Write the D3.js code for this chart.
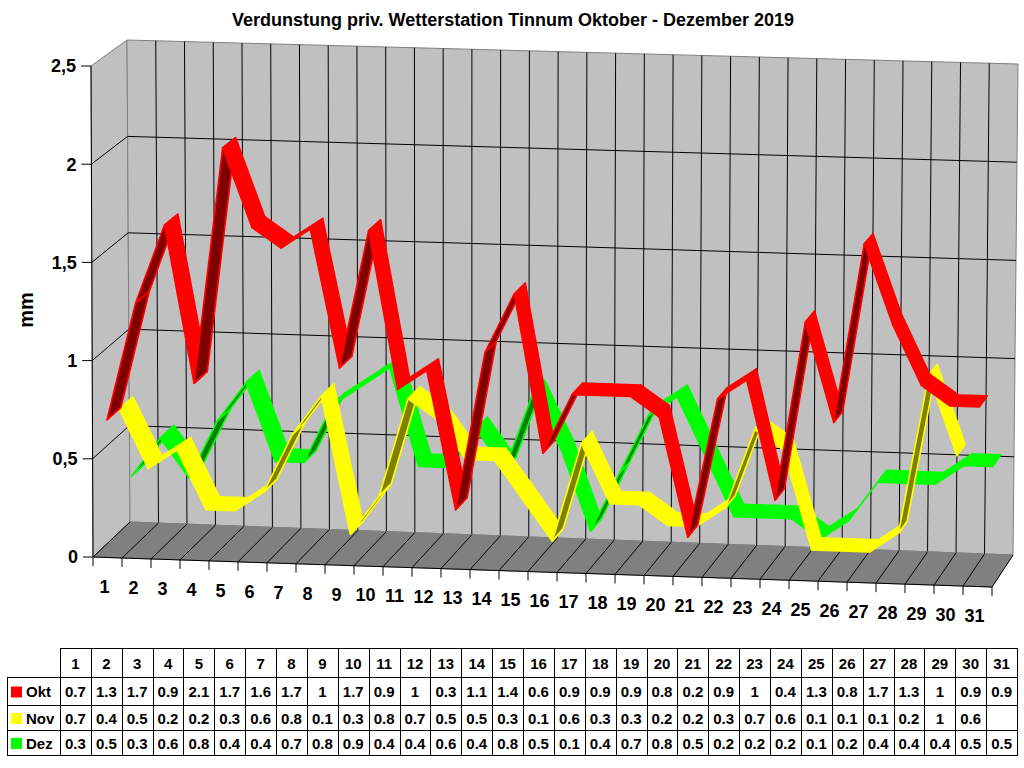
<!DOCTYPE html>
<html>
<head>
<meta charset="utf-8">
<script src="https://cdn.jsdelivr.net/npm/d3@7"></script>
<style>
  body { margin: 0; background: #fff; }
  svg { display: block; font-family: "Liberation Sans", Arial, sans-serif; }
</style>
</head>
<body>
<div id="chart"></div>
<script>
const days = [1, 2, 3, 4, 5, 6, 7, 8, 9, 10, 11, 12, 13, 14, 15, 16,
  17, 18, 19, 20, 21, 22, 23, 24, 25, 26, 27, 28, 29, 30, 31];
const seriesNames = ["Okt", "Nov", "Dez"];
const okt = [0.7, 1.3, 1.7, 0.9, 2.1, 1.7, 1.6, 1.7, 1, 1.7, 0.9, 1, 0.3, 1.1, 1.4, 0.6,
  0.9, 0.9, 0.9, 0.8, 0.2, 0.9, 1, 0.4, 1.3, 0.8, 1.7, 1.3, 1, 0.9, 0.9];
const nov = [0.7, 0.4, 0.5, 0.2, 0.2, 0.3, 0.6, 0.8, 0.1, 0.3, 0.8, 0.7, 0.5, 0.5, 0.3, 0.1,
  0.6, 0.3, 0.3, 0.2, 0.2, 0.3, 0.7, 0.6, 0.1, 0.1, 0.1, 0.2, 1, 0.6, null];
const dez = [0.3, 0.5, 0.3, 0.6, 0.8, 0.4, 0.4, 0.7, 0.8, 0.9, 0.4, 0.4, 0.6, 0.4, 0.8, 0.5,
  0.1, 0.4, 0.7, 0.8, 0.5, 0.2, 0.2, 0.2, 0.1, 0.2, 0.4, 0.4, 0.4, 0.5, 0.5];
const yTicks = [0, 0.5, 1, 1.5, 2, 2.5];

const brightColors = ["#ff0000", "#ffff00", "#00ff00"];
const darkColors = ["#800000", "#808000", "#008000"];
const seriesValues = [okt, nov, dez];

const W = 1024, H = 768;
const svg = d3.select("#chart").append("svg").attr("width", W).attr("height", H);

// scales: category position, value and depth -> unit fractions
const xScale = d3.scaleLinear().domain([0, days.length]).range([0, 1]);
const yScale = d3.scaleLinear().domain([0, 2.5]).range([0, 1]);
const zScale = d3.scaleLinear().domain([0, seriesNames.length]).range([0, 1]);
const ribbonDepth = 0.38;

// corners of the front (z=0) and back (z=1) planes
const frontC = { lb: [93, 557], rb: [992, 587], lt: [91, 66], rt: [997, 88] };
const backC = { lb: [130, 522], rb: [1013, 555], lt: [127, 40], rt: [1018, 64] };

function bilinear(c, u, w) {
  const k = i => (1 - u) * (1 - w) * c.lb[i] + u * (1 - w) * c.rb[i] + (1 - u) * w * c.lt[i] + u * w * c.rt[i];
  return [k(0), k(1)];
}

// project (category coord, value, depth fraction) to screen
function P(x, v, z) {
  const u = xScale(x), w = yScale(v);
  const f = bilinear(frontC, u, w), b = bilinear(backC, u, w);
  return [f[0] + (b[0] - f[0]) * z, f[1] + (b[1] - f[1]) * z];
}

const line = pts => "M" + pts.map(p => p[0].toFixed(2) + "," + p[1].toFixed(2)).join("L");
const poly = pts => line(pts) + "Z";
const nCat = days.length;
const vMax = yScale.domain()[1];

// walls
const walls = svg.append("g");
walls.append("path")
  .attr("d", poly([P(0, 0, 0), P(0, vMax, 0), P(0, vMax, 1), P(0, 0, 1)]))
  .attr("fill", "#c0c0c0").attr("stroke", "#808080");
walls.append("path")
  .attr("d", poly([P(0, 0, 1), P(nCat, 0, 1), P(nCat, vMax, 1), P(0, vMax, 1)]))
  .attr("fill", "#c0c0c0").attr("stroke", "#808080");

yTicks.filter(v => v > 0 && v < vMax).forEach(v => {
  walls.append("path")
    .attr("d", line([P(0, v, 0), P(0, v, 1), P(nCat, v, 1)]))
    .attr("fill", "none").attr("stroke", "#000");
});
d3.range(1, nCat).forEach(k => {
  walls.append("path")
    .attr("d", line([P(k, 0, 1), P(k, vMax, 1)]))
    .attr("stroke", "#000");
});

// floor
walls.append("path")
  .attr("d", poly([P(0, 0, 0), P(nCat, 0, 0), P(nCat, 0, 1), P(0, 0, 1)]))
  .attr("fill", "#808080").attr("stroke", "#808080");
d3.range(0, nCat + 1).forEach(k => {
  walls.append("path")
    .attr("d", line([P(k, 0, 0), P(k, 0, 1)]))
    .attr("stroke", "#000");
});

// axes
const axes = svg.append("g");
axes.append("path").attr("d", line([P(0, 0, 0), P(0, vMax, 0)])).attr("stroke", "#000");
axes.append("path").attr("d", line([P(0, 0, 0), P(nCat, 0, 0)])).attr("stroke", "#000");

const fmt = d3.formatLocale({ decimal: ",", thousands: ".", grouping: [3], currency: ["", "€"] }).format("~g");
yTicks.forEach(v => {
  const p = P(0, v, 0);
  axes.append("path").attr("d", line([[p[0] - 10, p[1]], p])).attr("stroke", "#000");
  axes.append("text")
    .attr("x", p[0] - 15).attr("y", p[1]).attr("dy", "0.35em")
    .attr("text-anchor", "end")
    .attr("font-size", 18).attr("font-weight", "bold")
    .text(fmt(v));
});

d3.range(0, nCat + 1).forEach(k => {
  const p = P(k, 0, 0);
  axes.append("path").attr("d", line([p, [p[0], p[1] + 9]])).attr("stroke", "#000");
});
days.forEach((d, i) => {
  const p = P(i + 0.5, 0, 0);
  axes.append("text")
    .attr("x", p[0] - 3).attr("y", p[1] + 29).attr("dy", "0.35em")
    .attr("text-anchor", "middle")
    .attr("font-size", 18).attr("font-weight", "bold")
    .text(d);
});

// ribbons, back row first
const ribbons = svg.append("g");
for (let s = seriesNames.length - 1; s >= 0; s--) {
  const vals = seriesValues[s];
  const z0 = zScale(s), z1 = z0 + ribbonDepth;
  for (let i = 0; i < vals.length - 1; i++) {
    if (vals[i] == null || vals[i + 1] == null) continue;
    const a = P(i + 0.5, vals[i], z0), b = P(i + 1.5, vals[i + 1], z0);
    const c = P(i + 1.5, vals[i + 1], z1), d = P(i + 0.5, vals[i], z1);
    const pts = [a, b, c, d];
    let area = 0;
    pts.forEach((p, j) => {
      const q = pts[(j + 1) % 4];
      area += p[0] * q[1] - q[0] * p[1];
    });
    const under = area > 0;
    ribbons.append("path")
      .attr("d", poly(pts))
      .attr("fill", under ? darkColors[s] : brightColors[s])
      .attr("stroke", brightColors[s])
      .attr("stroke-width", 1.6)
      .attr("stroke-linejoin", "round");
  }
}

// titles
svg.append("text")
  .attr("x", 513).attr("y", 20).attr("dy", "0.35em")
  .attr("text-anchor", "middle")
  .attr("font-size", 18).attr("font-weight", "bold")
  .text("Verdunstung priv. Wetterstation Tinnum Oktober - Dezember 2019");
svg.append("text")
  .attr("transform", "translate(26,310) rotate(-90)")
  .attr("dy", "0.35em")
  .attr("text-anchor", "middle")
  .attr("font-size", 20).attr("font-weight", "bold")
  .text("mm");

// data table
const table = svg.append("g").attr("font-size", 15).attr("font-weight", "bold");
const tLeft = 7, tCol0 = 60, tRight = 1017;
const rowLines = [648, 677, 705, 730, 755];
const colX = d3.scaleLinear().domain([0, nCat]).range([tCol0, tRight]);

table.append("rect")
  .attr("x", tCol0 + 0.5).attr("y", rowLines[0] + 0.5)
  .attr("width", tRight - tCol0).attr("height", rowLines[4] - rowLines[0])
  .attr("fill", "none").attr("stroke", "#000");
table.append("rect")
  .attr("x", tLeft + 0.5).attr("y", rowLines[1] + 0.5)
  .attr("width", tRight - tLeft).attr("height", rowLines[4] - rowLines[1])
  .attr("fill", "none").attr("stroke", "#000");
rowLines.slice(1, 4).forEach(y => {
  table.append("line")
    .attr("x1", tLeft).attr("x2", tRight).attr("y1", y + 0.5).attr("y2", y + 0.5)
    .attr("stroke", "#000");
});
d3.range(1, nCat).forEach(k => {
  const x = Math.round(colX(k)) + 0.5;
  table.append("line")
    .attr("x1", x).attr("x2", x).attr("y1", rowLines[0]).attr("y2", rowLines[4])
    .attr("stroke", "#000");
});

days.forEach((d, i) => {
  table.append("text")
    .attr("x", colX(i + 0.5)).attr("y", (rowLines[0] + rowLines[1]) / 2 + 1).attr("dy", "0.35em")
    .attr("text-anchor", "middle").text(d);
});
seriesNames.forEach((name, s) => {
  const yc = (rowLines[s + 1] + rowLines[s + 2]) / 2 + 1;
  table.append("rect")
    .attr("x", 11).attr("y", yc - 5.5).attr("width", 11).attr("height", 11)
    .attr("fill", brightColors[s]);
  table.append("text").attr("x", 26).attr("y", yc).attr("dy", "0.35em").text(name);
  seriesValues[s].forEach((v, i) => {
    if (v == null) return;
    table.append("text")
      .attr("x", colX(i + 0.5)).attr("y", yc).attr("dy", "0.35em")
      .attr("text-anchor", "middle").text(v);
  });
});
</script>
</body>
</html>
